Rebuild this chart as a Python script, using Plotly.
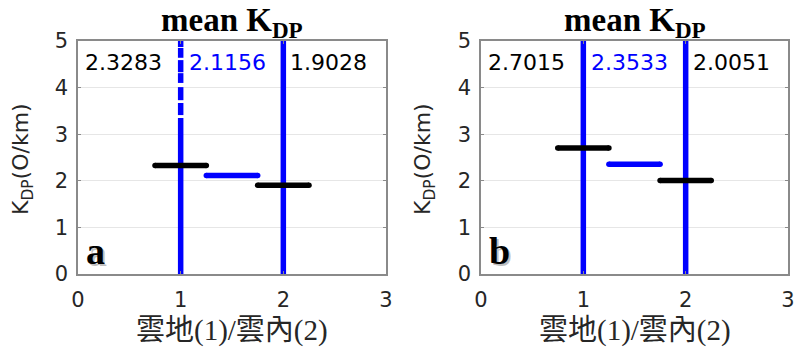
import plotly.graph_objects as go

# Mean K_DP per group: cloud-to-ground (1), overall (1.5), in-cloud (2)
group_centers = [1.0, 1.5, 2.0]
group_colors = ["black", "blue", "black"]
mean_kdp_a = [2.3283, 2.1156, 1.9028]
mean_kdp_b = [2.7015, 2.3533, 2.0051]

# Vertical extent of the individual K_DP samples at each category (y spans)
samples_a_ground = [(0.0, 3.35), (3.41, 3.67), (3.73, 4.01), (4.10, 4.31),
                    (4.33, 4.59), (4.64, 4.85), (4.87, 5.0)]
samples_a_cloud = [(0.0, 5.0)]
samples_b_ground = [(0.0, 5.0)]
samples_b_cloud = [(0.0, 5.0)]

x_ticks = [0, 1, 2, 3]
y_ticks = [0, 1, 2, 3, 4, 5]
panel_letters = ["a", "b"]

HALF_WIDTH = 0.25
LINE_W = 5.5
NUM_FONT = "DejaVu Sans"
SERIF = "Liberation Serif, Times New Roman, serif"
CJK = "Liberation Serif, Noto Sans CJK TC, serif"

# text x positions (data units) for the three mean labels
label_x = [0.05, 1.06, 2.05]

fig = go.Figure()

x_domains = [[78 / 794, 386 / 794], [481 / 794, 788 / 794]]
y_domain = [(347 - 274) / 347, (347 - 41) / 347]


def seg_xy(x, spans):
    xs, ys = [], []
    for lo, hi in spans:
        xs += [x, x, None]
        ys += [lo, hi, None]
    return xs, ys


panels = [
    (mean_kdp_a, samples_a_ground, samples_a_cloud),
    (mean_kdp_b, samples_b_ground, samples_b_cloud),
]

annotations = []
for i, (means, ground, cloud) in enumerate(panels):
    xa = "x" if i == 0 else "x2"
    ya = "y" if i == 0 else "y2"
    for cx, spans in ((1, ground), (2, cloud)):
        xs, ys = seg_xy(cx, spans)
        fig.add_trace(go.Scatter(x=xs, y=ys, mode="lines", xaxis=xa, yaxis=ya,
                                 line=dict(color="blue", width=LINE_W),
                                 showlegend=False, hoverinfo="skip"))
    for c, m, col in zip(group_centers, means, group_colors):
        # mean bar with rounded ends
        fig.add_trace(go.Scatter(x=[c - HALF_WIDTH, c + HALF_WIDTH], y=[m, m],
                                 mode="lines+markers", xaxis=xa, yaxis=ya,
                                 line=dict(color=col, width=LINE_W),
                                 marker=dict(color=col, size=LINE_W, line=dict(width=0)),
                                 showlegend=False))
    # mean values written along the top
    for lx, m, col in zip(label_x, means, group_colors):
        annotations.append(dict(
            x=lx, y=4.53, xref=xa, yref=ya, text=f"{m:.4f}", showarrow=False,
            xanchor="left", yanchor="middle",
            font=dict(family=NUM_FONT, size=22, color=col)))
    # panel letter with a soft shadow
    for dx, dy, col in ((2, -2, "rgba(0,0,0,0.25)"), (0, 0, "black")):
        annotations.append(dict(
            x=0.06, y=0.5, xref=xa, yref=ya, text=f"<b>{panel_letters[i]}</b>",
            showarrow=False, xanchor="left", yanchor="middle", xshift=dx, yshift=dy,
            font=dict(family=SERIF, size=38, color=col)))
    cx_paper = (x_domains[i][0] + x_domains[i][1]) / 2
    annotations.append(dict(
        x=cx_paper, y=1 - 22 / 347, xref="paper", yref="paper",
        text="<b>mean K<sub>DP</sub></b>", showarrow=False,
        xanchor="center", yanchor="middle",
        font=dict(family=SERIF, size=33, color="black")))
    annotations.append(dict(
        x=cx_paper, y=1 - 330 / 347, xref="paper", yref="paper",
        text="雲地(1)/雲內(2)", showarrow=False,
        xanchor="center", yanchor="middle",
        font=dict(family=CJK, size=29, color="#262626")))
    annotations.append(dict(
        x=(22 if i == 0 else 424) / 794, y=(347 - 159) / 347,
        xref="paper", yref="paper",
        text="K<sub>DP</sub>(O/km)", showarrow=False, textangle=-90,
        xanchor="center", yanchor="middle",
        font=dict(family=NUM_FONT, size=22, color="#262626")))

axis_common = dict(
    showline=True, linecolor="#8a8a8a", linewidth=1.5, mirror="ticks",
    ticks="inside", ticklen=3, tickcolor="#8a8a8a", zeroline=False,
    automargin=False, ticklabeloverflow="allow",
    tickfont=dict(family=NUM_FONT, size=21, color="#262626"),
)

layout = dict(
    width=794, height=347, margin=dict(l=0, r=0, t=0, b=0),
    paper_bgcolor="white", plot_bgcolor="white",
    annotations=annotations,
)
for i in range(2):
    sfx = "" if i == 0 else "2"
    layout["xaxis" + sfx] = dict(axis_common, domain=x_domains[i], range=[0, 3],
                                 tickvals=x_ticks, showgrid=False,
                                 anchor="y" + sfx, ticklabelstandoff=6)
    layout["yaxis" + sfx] = dict(axis_common, domain=y_domain, range=[0, 5],
                                 tickvals=y_ticks, showgrid=True,
                                 gridcolor="#e6e6e6", gridwidth=1,
                                 anchor="x" + sfx, ticklabelstandoff=4)

fig.update_layout(**layout)
fig.write_html("out.html")
